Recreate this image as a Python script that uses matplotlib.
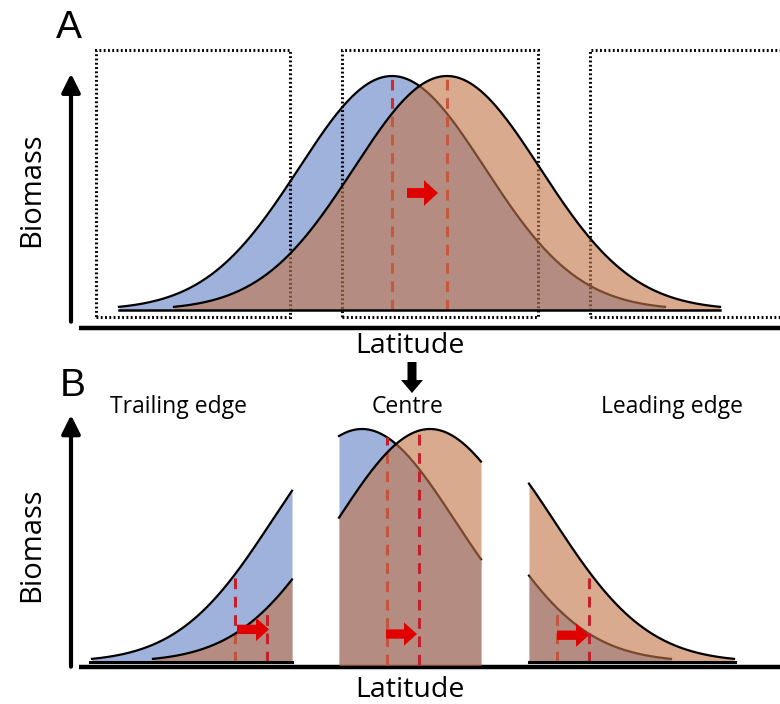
import matplotlib
matplotlib.use('Agg')
import matplotlib.pyplot as plt
from matplotlib.patches import Rectangle, FancyArrow
import numpy as np

# Latitude in image-width units (0-780), biomass relative to peak (peak = 1)
SIGMA = 93
HALF_SPAN = 273

# Panel A: whole range, before (blue) and after (orange) shift
a_means = [392, 447]
a_windows = [(96, 290), (342, 538), (590, 800)]
a_arrow = (407, 438, 0.50)

# Panel B: three windows with their own curves
b_names = ['Trailing edge', 'Centre', 'Leading edge']
b_label_x = [178, 408, 672]
b_windows = [(90, 292), (339, 481), (529, 735)]
b_means = [(365, 426), (362, 430), (398, 461)]
b_dashes = [(235, 267), (387, 419), (557, 589)]
b_arrows = [(237, 269, 0.14), (386, 417, 0.12), (557, 589, 0.115)]

BLUE = '#9fb2dc'
ORANGE = '#c27649'
ORANGE_ALPHA = 0.62
RED = '#e00000'
DASH_A = '#d42a2a'
DASH_B = '#c0222c'


def gauss(x, mu):
    return np.exp(-(x - mu) ** 2 / (2 * SIGMA ** 2))


def curve(mu, lo, hi):
    x = np.linspace(max(lo, mu - HALF_SPAN), min(hi, mu + HALF_SPAN), 300)
    return x, gauss(x, mu)


fig = plt.figure(figsize=(7.8, 7.04), dpi=100)
H = 704.0


def make_axes(top_px, bot_px, base_px, scale_px):
    ax = fig.add_axes([0, 1 - bot_px / H, 1, (bot_px - top_px) / H])
    ax.set_xlim(0, 780)
    ax.set_ylim(-(bot_px - base_px) / scale_px, (base_px - top_px) / scale_px)
    ax.axis('off')
    return ax


ax_a = make_axes(0, 355, 310, 234)
ax_b = make_axes(355, 704, 662, 233)

# ---------------- Panel A ----------------
xb, yb = curve(a_means[0], 0, 780)
xo, yo = curve(a_means[1], 0, 780)
ax_a.fill_between(xb, 0, yb, color=BLUE, lw=0, zorder=1)
ax_a.plot(xb, yb, color='k', lw=1.6, zorder=2)
for lo, hi in a_windows:
    ax_a.add_patch(Rectangle((lo, -0.03), hi - lo, 1.141, fill=False, ec='k',
                             lw=2.2, ls=(0, (0.6, 0.8)), zorder=3, clip_on=True))
for mu in a_means:
    ax_a.plot([mu, mu], [0, 1], color=DASH_A, lw=2.2, ls=(0, (3.5, 2.5)), zorder=3)
ax_a.fill_between(xo, 0, yo, color=ORANGE, alpha=ORANGE_ALPHA, lw=0, zorder=4)
ax_a.plot(xo, yo, color='k', lw=1.6, zorder=5)
ax_a.plot([xb[0], xo[-1]], [0, 0], color='k', lw=1.8, zorder=5)
x0, x1, yy = a_arrow
ax_a.add_patch(FancyArrow(x0, yy, x1 - x0, 0, width=0.042, head_width=0.11,
                          head_length=14, length_includes_head=True,
                          color=RED, lw=0, zorder=6))
# axes
ax_a.annotate('', xy=(71, 1.01), xytext=(71, -0.05),
              arrowprops=dict(arrowstyle='-|>', lw=3, color='k', mutation_scale=28,
                              shrinkA=0, shrinkB=0))
ax_a.plot([79, 780], [-0.077, -0.077], color='k', lw=3.2, solid_capstyle='butt')

# ---------------- Panel B ----------------
for (lo, hi), (mb, mo), (db, do), (x0, x1, yy), name, lx in zip(
        b_windows, b_means, b_dashes, b_arrows, b_names, b_label_x):
    bottom = -0.015 if name == 'Centre' else 0
    xb, yb = curve(mb, lo, hi)
    xo, yo = curve(mo, lo, hi)
    ax_b.fill_between(xb, bottom, yb, color=BLUE, lw=0, zorder=1)
    ax_b.plot(xb, yb, color='k', lw=1.6, zorder=2)
    ax_b.plot([db, db], [bottom, gauss(db, mb)], color=DASH_B, lw=2.2,
              ls=(0, (3.5, 2.5)), zorder=3)
    ax_b.fill_between(xo, bottom, yo, color=ORANGE, alpha=ORANGE_ALPHA, lw=0, zorder=4)
    ax_b.plot(xo, yo, color='k', lw=1.6, zorder=5)
    ax_b.plot([do, do], [bottom, gauss(do, mo)], color=DASH_B, lw=2.2,
              ls=(0, (3.5, 2.5)), zorder=6)
    if name != 'Centre':
        ax_b.plot([lo, hi], [0, 0], color='k', lw=2.2, zorder=6)
    ax_b.add_patch(FancyArrow(x0, yy, x1 - x0, 0, width=0.04, head_width=0.1,
                              head_length=13, length_includes_head=True,
                              color=RED, lw=0, zorder=7))
    ax_b.text(lx, 1.095, name, ha='center', va='center', fontsize=16.5,
              family='Open Sans')

ax_b.annotate('', xy=(71, 1.06), xytext=(71, -0.02),
              arrowprops=dict(arrowstyle='-|>', lw=3, color='k', mutation_scale=28,
                              shrinkA=0, shrinkB=0))
ax_b.plot([79, 780], [-0.021, -0.021], color='k', lw=3.2, solid_capstyle='butt')

# ---------------- text ----------------
fig.text(56 / 780, 1 - 28 / H, 'A', fontsize=28, family='Liberation Sans', va='center')
fig.text(60 / 780, 1 - 386 / H, 'B', fontsize=28, family='Liberation Sans', va='center')
fig.text(410 / 780, 1 - 346 / H, 'Latitude', fontsize=20.5, family='Open Sans',
         ha='center', va='center')
fig.text(410 / 780, 1 - 690 / H, 'Latitude', fontsize=20.5, family='Open Sans',
         ha='center', va='center')
fig.text(32 / 780, 1 - 190 / H, 'Biomass', fontsize=21, family='Open Sans',
         rotation=90, ha='center', va='center')
fig.text(32 / 780, 1 - 545 / H, 'Biomass', fontsize=21, family='Open Sans',
         rotation=90, ha='center', va='center')
# black arrow pointing from A down to B
fig.patches.append(FancyArrow(412 / 780, 1 - 362 / H, 0, -31 / H, width=9 / 780,
                              head_width=22 / 780, head_length=13 / H,
                              length_includes_head=True, color='k', lw=0,
                              transform=fig.transFigure, figure=fig))

fig.savefig('out.png', dpi=100)
